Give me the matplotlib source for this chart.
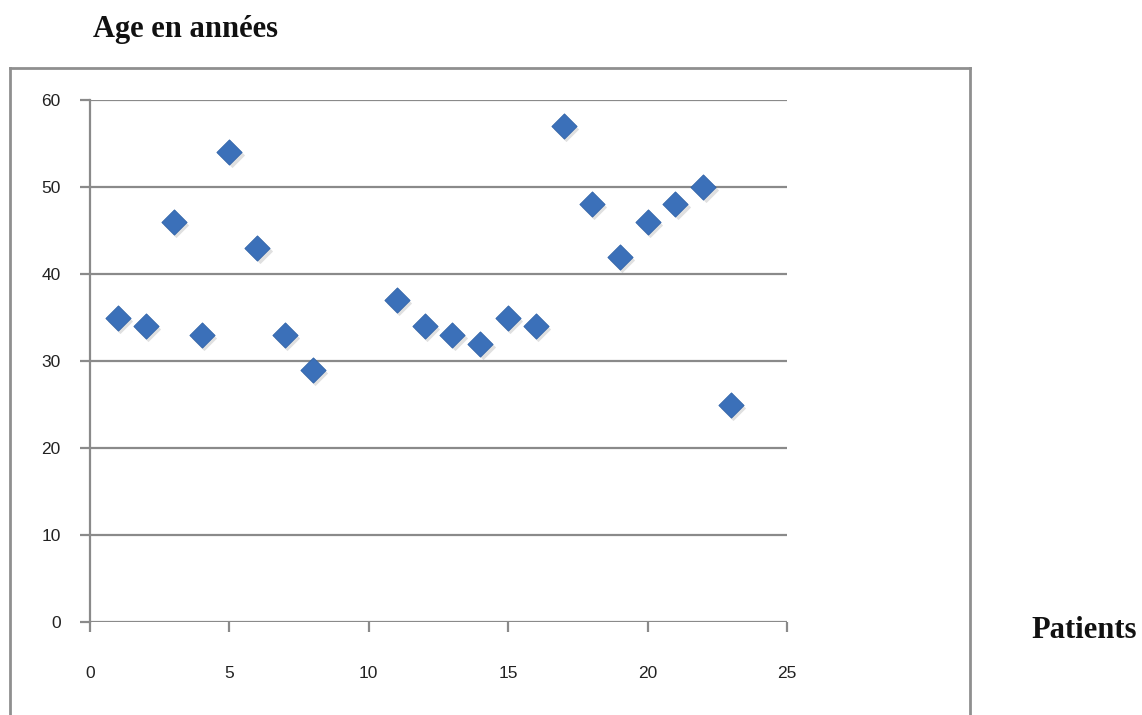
import matplotlib
matplotlib.use("Agg")
import matplotlib.pyplot as plt
from matplotlib.lines import Line2D

patients = [1, 2, 3, 4, 5, 6, 7, 8, 11, 12, 13, 14, 15, 16, 17, 18, 19, 20, 21, 22, 23]
ages = [35, 34, 46, 33, 54, 43, 33, 29, 37, 34, 33, 32, 35, 34, 57, 48, 42, 46, 48, 50, 25]
x_ticks = [0, 5, 10, 15, 20, 25]
y_ticks = [0, 10, 20, 30, 40, 50, 60]

W, H = 1142, 715
fig = plt.figure(figsize=(W / 100, H / 100), dpi=100)
fig.patch.set_facecolor("white")

ax = fig.add_axes([90 / W, (H - 622) / H, (787 - 90) / W, (622 - 100) / H])
ax.set_xlim(0, 25)
ax.set_ylim(0, 60)
for s in ["top", "right", "bottom"]:
    ax.spines[s].set_visible(False)
ax.spines["left"].set_color("#8a8a8a")
ax.spines["left"].set_linewidth(1.6)
ax.set_xticks(x_ticks)
ax.set_yticks(y_ticks)
ax.yaxis.grid(True, color="#8a8a8a", linewidth=1.6)
ax.set_axisbelow(True)
ax.tick_params(axis="y", direction="out", length=7, width=1.6, color="#8a8a8a",
               pad=14, labelsize=12.5, labelcolor="#222222")
ax.tick_params(axis="x", direction="out", length=7, width=1.6, color="#8a8a8a",
               pad=25, labelsize=12.5, labelcolor="#222222")
for lab in ax.get_xticklabels() + ax.get_yticklabels():
    lab.set_fontfamily("Liberation Sans")

# shadow
ax.scatter([p + 0.08 for p in patients], [a - 0.35 for a in ages], marker="D", s=165,
           color="#000000", alpha=0.12, linewidths=0, zorder=2, clip_on=False)
ax.scatter(patients, ages, marker="D", s=165, color="#3b70b9", edgecolors="#2f62a8",
           linewidths=0.6, zorder=3, clip_on=False)

# chart frame
fc = "#8f8f8f"
fig.add_artist(Line2D([10 / W, 10 / W], [0, (H - 68) / H], color=fc, lw=2.0))
fig.add_artist(Line2D([10 / W, 970 / W], [(H - 68) / H, (H - 68) / H], color=fc, lw=2.0))
fig.add_artist(Line2D([970 / W, 970 / W], [0, (H - 68) / H], color=fc, lw=2.0))

fig.text(93 / W, (H - 29) / H, "Age en années", fontfamily="Liberation Serif",
         fontweight="bold", fontsize=22, ha="left", va="center", color="#111111")
fig.text(1137 / W, (H - 630) / H, "Patients", fontfamily="Liberation Serif",
         fontweight="bold", fontsize=22, ha="right", va="center", color="#111111")

fig.savefig("out.png", dpi=100, facecolor="white")
